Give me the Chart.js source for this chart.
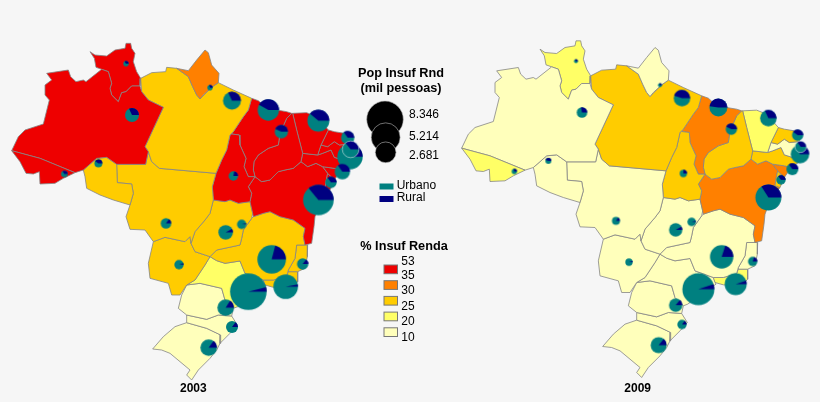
<!DOCTYPE html>
<html><head><meta charset="utf-8">
<style>html,body{margin:0;padding:0;background:#f6f6f6;overflow:hidden}canvas{display:block}</style>
<script src="https://cdn.jsdelivr.net/npm/chart.js@4"></script>
</head><body><canvas id="c" width="820" height="402"></canvas>
<script>
// State outlines, map units, flat x,y lists
const AC=[35,452,120,475,225,518,190,535,165,550,120,552,118,515,100,522,78,520,60,485];
const AM=[140,220,205,210,212,230,228,245,250,240,258,245,305,208,325,215,335,250,330,265,335,285,355,305,365,278,378,275,395,258,420,258,425,275,445,300,490,322,435,440,445,455,437,493,350,493,320,472,290,475,250,510,225,518,120,475,35,452,55,410,75,390,130,372,148,300,135,285,135,255,155,240];
const RR=[270,155,285,165,320,168,345,150,375,145,378,130,392,130,395,145,405,160,400,185,410,215,422,235,420,258,395,258,378,275,365,278,355,305,335,285,330,265,335,250,325,215,305,208,288,202,283,175];
const AP=[530,205,565,212,590,180,615,150,625,158,635,195,657,220,655,248,635,262,610,285,600,297,590,285,578,260,565,230];
const PA=[422,235,455,218,497,215,500,202,530,205,565,230,578,260,590,285,600,297,635,262,655,248,700,270,755,295,745,330,730,350,700,395,690,405,680,450,665,480,648,520,478,505,455,485,445,455,435,440,490,322,445,300,425,275];
const RO=[250,510,290,475,320,472,350,493,352,548,395,552,400,580,390,615,340,600,300,585,260,565,255,530];
const MT=[350,493,437,493,445,455,455,485,478,505,648,520,637,560,640,600,630,640,615,660,585,695,573,730,570,710,555,725,495,712,460,725,435,690,390,688,378,650,390,615,400,580,395,552,352,548];
const TO=[695,402,718,405,720,435,738,475,732,500,745,530,765,530,745,560,755,580,750,605,715,610,690,600,675,605,640,600,637,560,648,520,665,480,680,450,690,405];
const MA=[755,295,775,302,800,325,860,335,875,340,860,355,840,400,835,435,805,445,775,465,762,485,760,510,765,530,745,530,732,500,738,475,720,435,718,405,695,402,700,395,730,350,745,330];
const PI=[875,340,860,355,840,400,835,435,805,445,775,465,762,485,760,510,765,530,785,545,810,540,835,515,855,510,880,505,903,485,908,460,890,390,878,340];
const CE=[878,340,920,338,950,350,985,390,963,435,953,465,908,460,890,390];
const RN=[985,390,1003,395,1033,400,1050,432,1018,435,1003,425,983,440,963,435];
const PB=[963,435,983,440,1003,425,1018,435,1050,432,1048,465,1028,480,1003,472,993,450,968,460,953,465];
const PE=[903,485,908,460,953,465,968,460,993,450,1003,472,1028,480,1048,465,1053,490,1023,510,1003,505,968,500,948,490,923,500];
const AL=[968,500,1003,505,1023,510,1003,540,983,520];
const SE=[983,520,1003,540,990,570,975,565,978,545];
const BA=[765,530,785,545,810,540,835,515,855,510,880,505,903,485,923,500,948,490,968,500,983,520,978,545,975,565,990,570,960,610,945,650,942,680,935,730,915,735,910,710,915,685,880,660,840,650,810,635,790,640,760,650,758,640,750,605,755,580,745,560];
const GO=[640,600,630,640,615,660,585,695,573,730,585,755,630,770,650,750,720,735,725,715,730,690,755,655,758,640,750,605,715,610,690,600,675,605];
const DF=[700,668,712,668,712,682,700,682];
const MS=[460,725,495,712,555,725,570,710,573,730,585,755,630,770,615,795,585,840,560,855,540,885,515,885,505,850,450,835,445,790];
const MG=[630,770,650,750,720,735,725,715,730,690,755,655,760,650,790,640,810,635,840,650,880,660,915,685,910,710,915,735,890,735,885,775,865,810,860,828,820,840,790,840,735,820,720,783,675,790,650,782];
const ES=[890,735,915,735,923,735,922,770,915,805,893,815,865,815,865,810,885,775];
const RJ=[860,828,865,815,893,815,893,845,880,860,850,865,820,862,795,855,790,840,820,840];
const SP=[630,770,650,782,675,790,720,783,735,820,790,840,798,860,713,920,700,925,675,900,665,865,600,850,560,855,585,840,615,795];
const PR=[560,855,600,850,665,865,675,900,700,925,695,948,655,945,620,958,560,945,535,925,545,885];
const SC=[560,945,620,958,655,945,695,948,712,975,690,1000,660,1030,662,1005,620,985,560,968];
const RS=[560,968,620,985,662,1005,660,1030,650,1050,630,1075,595,1110,575,1140,560,1125,570,1110,540,1085,510,1060,485,1050,458,1047,490,1010,525,980];

const stateIds=['AC','AM','RR','AP','PA','RO','MT','TO','MA','PI','CE','RN','PB','PE','AL','SE','BA','GO','DF','MS','MG','ES','RJ','SP','PR','SC','RS'];
const outlines=[AC,AM,RR,AP,PA,RO,MT,TO,MA,PI,CE,RN,PB,PE,AL,SE,BA,GO,DF,MS,MG,ES,RJ,SP,PR,SC,RS];

// Income class per state: 0 pale,1 yellow,2 gold,3 orange,4 red
const class2003=[4,4,4,3,2,2,2,4,4,4,4,4,4,4,4,4,4,2,2,2,2,2,2,1,0,0,0];
const class2009=[1,0,1,0,2,0,0,2,3,2,1,2,0,2,3,2,3,0,0,0,0,0,1,0,0,0,0];
const classColors=['#FFFFBB','#FFFF66','#FFCC00','#FF8000','#EE0000'];

// Pie centres (map units), in drawing order
const pieIds=['RR','AP','AM','PA','MA','CE','PI','RN','PE','PB','AL','SE','BA','TO','AC','RO','MT','GO','DF','MS','MG','ES','RJ','SP','PR','SC','RS'];
const pieX=[378,630,396,696,805,955,844,1043,1050,1052,1027,993,955,700,193,295,498,677,725,537,815,908,857,745,677,696,626];
const pieY=[191,263,345,302,330,362,395,413,470,448,515,547,600,528,522,490,670,697,673,794,778,792,860,875,923,981,1043];
// Population (thousands) and rural share (%)
const pop2003=[181,181,1221,2019,2853,3016,1118,1118,4020,1717,1477,810,5834,550,272,399,700,1328,550,550,5096,810,3770,8346,1717,897,1717];
const rural2003=[35,30,32,32,42,39,43,35,30,36,35,35,36,22,35,40,15,8,3,5,21,15,3,4,16,15,15];
const pop2009=[100,100,700,1717,2019,1717,810,810,2156,810,897,550,4212,341,181,224,399,1118,460,341,3411,550,3016,6380,1118,550,1595];
const rural2009=[35,30,28,45,48,32,43,40,30,35,35,35,34,25,30,45,15,8,5,5,20,20,5,5,14,15,14];

// Legend content
const sizeValues=[8346,5214,2681];
const sizeLabels=['8.346','5.214','2.681'];
const classLabels=['53','35','30','25','20','10'];
const typeLabels=['Urbano','Rural'];
const titles=['2003','2009'];
const TEAL='#008080',NAVY='#000080';

const closed=a=>{const p=[];for(let i=0;i<a.length;i+=2)p.push({x:a[i],y:a[i+1]});p.push({x:a[0],y:a[1]});return p;};
const radius=p=>18.3*Math.sqrt(p/8346);

function pieCanvas(r,share,rim){
  const s=Math.ceil(2*r+4),c=document.createElement('canvas');c.width=c.height=s;
  const g=c.getContext('2d'),m=s/2;
  g.fillStyle=TEAL;g.beginPath();g.arc(m,m,r,0,Math.PI*2);g.fill();
  g.fillStyle=NAVY;g.beginPath();g.moveTo(m,m);g.arc(m,m,r,0,-share/100*Math.PI*2,true);g.closePath();g.fill();
  if(rim){g.strokeStyle='rgba(225,235,235,.8)';g.lineWidth=.7;g.beginPath();g.arc(m,m,r,0,Math.PI*2);g.stroke();}
  return c;
}
function stateSet(i,cls,xAxisID,yAxisID){
  return {type:'line',label:stateIds[i],data:closed(outlines[i]),xAxisID,yAxisID,order:5,
    fill:'shape',backgroundColor:classColors[cls[i]],borderColor:'#858585',borderWidth:.8,
    pointRadius:0,tension:0,borderJoinStyle:'round'};
}
function pieSet(pop,rural,xAxisID,yAxisID){
  return {type:'bubble',label:'pies',xAxisID,yAxisID,order:1,clip:false,
    data:pieIds.map((id,i)=>({x:pieX[i],y:pieY[i],r:radius(pop[i]),share:rural[i],id})),
    pointStyle:c=>pieCanvas(c.raw.r,c.raw.share,c.raw.id==='PB'),borderWidth:0,backgroundColor:TEAL};
}
const datasets=[];
datasets.push(pieSet(pop2003,rural2003,'xL','yL'));
datasets.push(pieSet(pop2009,rural2009,'xR','yR'));
stateIds.forEach((s,i)=>{datasets.push(stateSet(i,class2003,'xL','yL'));datasets.push(stateSet(i,class2009,'xR','yR'));});
// size legend bubbles (largest first drawn)
sizeValues.forEach((v,i)=>datasets.push({type:'bubble',label:'size'+i,xAxisID:'xL',yAxisID:'yL',order:2-i/10,
  data:[{x:[1155,1157,1157][i],y:[358,412,457][i],r:radius(v)}],
  backgroundColor:'#000',borderColor:'#bbb',borderWidth:.6}));

const decor={id:'decor',
  beforeDraw(ch){const g=ch.ctx;g.save();g.fillStyle='#f6f6f6';g.fillRect(0,0,820,402);g.restore();},
  afterDraw(ch){
    const g=ch.ctx;g.save();g.fillStyle='#000';g.textBaseline='middle';
    const B='bold 12.7px "Liberation Sans"',R='12px "Liberation Sans"';
    const t=(s,x,y,f,a)=>{g.font=f;g.textAlign=a||'left';g.fillText(s,x,y);};
    t('Pop Insuf Rnd',401,73,B,'center');t('(mil pessoas)',401,88,B,'center');
    sizeLabels.forEach((s,i)=>t(s,409,[115,137,156][i],R));
    typeLabels.forEach((s,i)=>{
      g.fillStyle=[TEAL,NAVY][i];g.fillRect(379.5,[183.5,196][i],14,6);
      g.fillStyle='#000';t(s,396.7,[186,198][i],R);});
    t('% Insuf Renda',404,246,B,'center');
    classLabels.forEach((s,i)=>t(s,401.3,[262,276,291,306.5,322,337.5][i],R));
    [4,3,2,1,0].forEach((c,i)=>{
      const y=265+i*15.7;g.fillStyle=classColors[c];g.fillRect(384,y,13.5,8.7);
      g.strokeStyle='#777';g.lineWidth=1;g.strokeRect(384,y,13.5,8.7);});
    g.fillStyle='#000';
    t(titles[0],193.3,388.5,'bold 12px "Liberation Sans"','center');
    t(titles[1],637.7,388.5,'bold 12px "Liberation Sans"','center');
    g.restore();
  }};
const ax=(min,max,reverse)=>({type:'linear',display:false,min,max,reverse,offset:false,grace:0});
new Chart(document.getElementById('c'),{
  data:{datasets},plugins:[decor],
  options:{responsive:false,animation:false,devicePixelRatio:1,events:[],
    layout:{padding:0,autoPadding:false},
    plugins:{legend:{display:false},tooltip:{enabled:false},title:{display:false}},
    scales:{xL:ax(0,2460,false),xR:ax(-1350,1110,false),yL:ax(0,1206,true),yR:ax(7.5,1213.5,true)}}
});
</script></body></html>
